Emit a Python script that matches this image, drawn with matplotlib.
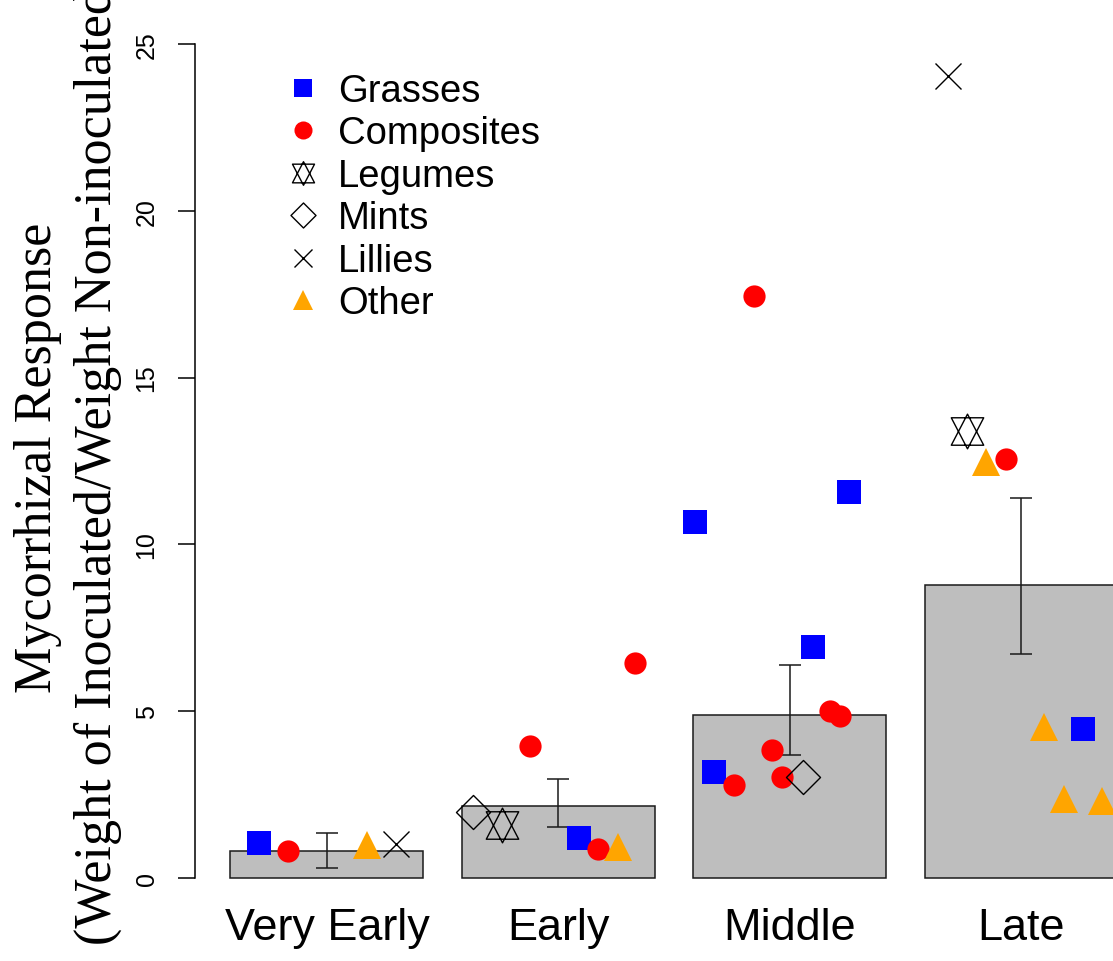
import numpy as np
import matplotlib.pyplot as plt
from matplotlib.path import Path
from matplotlib.lines import Line2D

plt.rcParams['font.family'] = ['Liberation Sans', 'DejaVu Sans']

# stages and bar summary
stages = ['Very Early', 'Early', 'Middle', 'Late']
bar_mean = [0.80, 2.15, 4.89, 8.79]
err_lo = [0.31, 1.52, 3.69, 6.71]
err_hi = [1.36, 2.97, 6.37, 11.39]

# points: stage index, horizontal jitter, value
grass_stage = [0, 1, 2, 2, 2, 2, 3]
grass_jit = [-0.35, 0.105, -0.49, -0.39, 0.12, 0.31, 0.32]
grass_y = [1.06, 1.20, 10.67, 3.18, 6.92, 11.57, 4.47]

comp_stage = [0, 1, 1, 1, 2, 2, 2, 2, 2, 2, 3]
comp_jit = [-0.20, -0.146, 0.205, 0.40, -0.185, -0.29, -0.09, -0.04, 0.21, 0.26, -0.08]
comp_y = [0.81, 3.95, 0.86, 6.44, 17.45, 2.79, 3.85, 3.04, 5.02, 4.87, 12.56]

leg_stage = [1, 3]
leg_jit = [-0.29, -0.28]
leg_y = [1.59, 13.41]

mint_stage = [1, 2]
mint_jit = [-0.443, 0.067]
mint_y = [1.99, 3.02]

lily_stage = [0, 3]
lily_jit = [0.356, -0.38]
lily_y = [1.03, 24.04]

other_stage = [0, 1, 3, 3, 3, 3]
other_jit = [0.21, 0.31, -0.18, 0.12, 0.22, 0.42]
other_y = [1.00, 0.93, 12.47, 4.52, 2.36, 2.31]

# R-like barplot positions (width 1, space 0.2)
centers = 0.7 + 1.2 * np.arange(len(stages))

# pch 11: triangles up and down
star = Path([(0, 52.5), (-49, -41.5), (49, -41.5), (0, 52.5),
             (0, -52.5), (-49, 41.5), (49, 41.5), (0, -52.5)],
            [Path.MOVETO, Path.LINETO, Path.LINETO, Path.CLOSEPOLY,
             Path.MOVETO, Path.LINETO, Path.LINETO, Path.CLOSEPOLY])
diamond = Path([(0, 1), (1, 0), (0, -1), (-1, 0), (0, 1)],
               [Path.MOVETO, Path.LINETO, Path.LINETO, Path.LINETO, Path.CLOSEPOLY])

fig = plt.figure(figsize=(11.13, 9.62), dpi=100)
W, H = 1113, 962
# x: 0.016 -> px 195, 4.984 -> px 1153 ; y: -0.3 -> px 889, 26 -> px 11.6
ax = fig.add_axes([195 / W, (962 - 889) / H, (1153 - 195) / W, (889 - 11.6) / H])
ax.set_xlim(0.016, 4.984)
ax.set_ylim(-0.3, 26)

ax.bar(centers, bar_mean, width=1.0, color='#bebebe', edgecolor='#1a1a1a', linewidth=1.1, zorder=1)
lo = np.array(err_lo)
hi = np.array(err_hi)
ax.errorbar(centers, (lo + hi) / 2, yerr=(hi - lo) / 2, fmt='none', ecolor='#1a1a1a',
            elinewidth=1.1, capsize=7.9, capthick=1.1, zorder=2)

def xs(st, jit):
    return centers[np.array(st)] + np.array(jit)

ax.plot(xs(grass_stage, grass_jit), grass_y, 's', color='#0000ff', ms=17.5, mew=0, zorder=3)
ax.plot(xs(comp_stage, comp_jit), comp_y, 'o', color='#ff0000', ms=16, mew=0, zorder=3)
ax.plot(xs(leg_stage, leg_jit), leg_y, marker=star, ls='none', mfc='none', mec='black', ms=25, mew=1.0, zorder=3)
ax.plot(xs(mint_stage, mint_jit), mint_y, marker=diamond, ls='none', mfc='none', mec='black', ms=24.5, mew=1.0, zorder=3)
ax.plot(xs(lily_stage, lily_jit), lily_y, 'x', color='black', ms=18.5, mew=1.0, zorder=3)
ax.plot(xs(other_stage, other_jit), other_y, '^', color='#ffa500', ms=20, mew=0, zorder=3)

for s in ['top', 'right', 'bottom']:
    ax.spines[s].set_visible(False)
ax.spines['left'].set_bounds(0, 25)
ax.spines['left'].set_linewidth(1.1)
ax.set_yticks(np.arange(0, 26, 5))
ax.tick_params(axis='y', length=12.2, width=1.1, pad=14, labelsize=18, labelrotation=90)
for t in ax.get_yticklabels():
    t.set_verticalalignment('center')
ax.set_xticks(centers)
ax.set_xticklabels(stages, fontsize=32.4)
ax.tick_params(axis='x', length=0, pad=14)

handles = [
    Line2D([], [], ls='none', marker='s', color='#0000ff', ms=13, mew=0),
    Line2D([], [], ls='none', marker='o', color='#ff0000', ms=13, mew=0),
    Line2D([], [], ls='none', marker=star, mfc='none', mec='black', ms=17, mew=1.0),
    Line2D([], [], ls='none', marker=diamond, mfc='none', mec='black', ms=18, mew=1.0),
    Line2D([], [], ls='none', marker='x', color='black', ms=13, mew=1.0),
    Line2D([], [], ls='none', marker='^', color='#ffa500', ms=15, mew=0),
]
labels = ['Grasses', 'Composites', 'Legumes', 'Mints', 'Lillies', 'Other']
ax.legend(handles, labels, loc='upper left', bbox_to_anchor=(284 / W, 1 - 74 / H),
          bbox_transform=fig.transFigure, frameon=False, fontsize=27.5, handlelength=1.0,
          handletextpad=0.42, labelspacing=0.17, borderpad=0, borderaxespad=0)

serif = ['Liberation Serif', 'DejaVu Serif']
fig.text(51 / W, 1 - 458 / H, 'Mycorrhizal Response', rotation=90, rotation_mode='anchor',
         ha='center', va='baseline', fontsize=37.5, family=serif)
fig.text(111 / W, 1 - 458 / H, '(Weight of Inoculated/Weight Non-inoculated)', rotation=90,
         rotation_mode='anchor', ha='center', va='baseline', fontsize=37.5, family=serif)

fig.savefig('out.png', dpi=100)
